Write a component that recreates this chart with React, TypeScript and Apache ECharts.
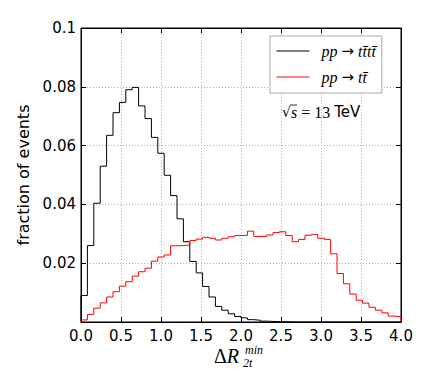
import React, { useEffect, useRef } from "react";
import * as echarts from "echarts";

// Histogram bin width (x in ΔR units), 50 bins over 0..4
const binWidth = 0.08;

// pp -> t tbar t tbar (black)
const fourTop = [
  0.009, 0.026, 0.0404, 0.053, 0.0635, 0.0712, 0.0747, 0.079, 0.0798, 0.0735,
  0.0692, 0.0628, 0.0574, 0.0499, 0.043, 0.0351, 0.0273, 0.0206, 0.0167, 0.0121,
  0.0085, 0.0053, 0.004, 0.0028, 0.0019, 0.0014, 0.0008, 0.0006, 0.0003, 0.0002,
  0.0001, 0.0001, 0, 0, 0, 0, 0, 0, 0, 0,
  0, 0, 0, 0, 0, 0, 0, 0, 0, 0,
];

// pp -> t tbar (red)
const twoTop = [
  0.0007, 0.0026, 0.0047, 0.0065, 0.0085, 0.0103, 0.0122, 0.0137, 0.0156, 0.0171,
  0.0183, 0.0207, 0.0221, 0.0228, 0.0259, 0.026, 0.0262, 0.0277, 0.0282, 0.0288,
  0.0285, 0.0279, 0.0285, 0.029, 0.0294, 0.0295, 0.0309, 0.0291, 0.0291, 0.0296,
  0.0304, 0.0307, 0.0294, 0.0273, 0.0281, 0.0295, 0.0298, 0.0285, 0.0281, 0.0232,
  0.0165, 0.013, 0.0095, 0.0074, 0.0064, 0.005, 0.004, 0.0031, 0.002, 0.0018,
];

const seriesNames = ["pp → tt̄tt̄", "pp → tt̄"];
const yLabel = "fraction of events";
const energyLabel = "13";

function stepData(vals: number[]) {
  const pts: [number, number][] = [[0, 0]];
  vals.forEach((v, i) => pts.push([+(i * binWidth).toFixed(4), v]));
  const end = +(vals.length * binWidth).toFixed(4);
  pts.push([end, vals[vals.length - 1]]);
  pts.push([end, 0]);
  return pts;
}

export default function App() {
  const ref = useRef<HTMLDivElement>(null);
  useEffect(() => {
    document.body.style.margin = "0";
    const chart = echarts.init(ref.current!, null, { renderer: "svg" });
    const tickFont = { fontFamily: "DejaVu Sans", fontSize: 15, color: "#000" };
    const gridLine = { show: true, lineStyle: { color: "#b0b0b0", type: [1, 2] as any, width: 1 } };
    const option: any = {
      animation: false,
      backgroundColor: "#fff",
      grid: { left: 81, right: 34, top: 28, bottom: 65, show: true, borderColor: "#000", borderWidth: 1, outerBoundsMode: "none" },
      xAxis: [
        {
          type: "value", min: 0, max: 4, interval: 0.5,
          axisLine: { show: true, onZero: false, lineStyle: { color: "#000" } },
          axisTick: { show: true, inside: true, length: 5, lineStyle: { color: "#000" } },
          axisLabel: { ...tickFont, lineHeight: 14, margin: 7, formatter: (v: number) => v.toFixed(1) },
          splitLine: gridLine,
        },
        {
          type: "value", min: 0, max: 4, interval: 0.5, position: "top",
          axisLine: { show: true, onZero: false, lineStyle: { color: "#000" } },
          axisTick: { show: true, inside: true, length: 5, lineStyle: { color: "#000" } },
          axisLabel: { show: false }, splitLine: { show: false },
        },
      ],
      yAxis: [
        {
          type: "value", min: 0, max: 0.1, interval: 0.02,
          axisLine: { show: true, onZero: false, lineStyle: { color: "#000" } },
          axisTick: { show: true, inside: true, length: 5, lineStyle: { color: "#000" } },
          axisLabel: {
            ...tickFont, margin: 5,
            formatter: (v: number) => (v < 1e-9 ? "" : Math.abs(v - 0.1) < 1e-9 ? "0.1" : v.toFixed(2)),
          },
          splitLine: gridLine,
          name: yLabel, nameLocation: "middle", nameGap: 43,
          nameTextStyle: { fontFamily: "DejaVu Sans", fontSize: 16, color: "#000" },
        },
        {
          type: "value", min: 0, max: 0.1, interval: 0.02, position: "right",
          axisLine: { show: true, onZero: false, lineStyle: { color: "#000" } },
          axisTick: { show: true, inside: true, length: 5, lineStyle: { color: "#000" } },
          axisLabel: { show: false }, splitLine: { show: false },
        },
      ],
      legend: {
        orient: "vertical", left: 270, top: 36,
        padding: [7, 6, 8, 6], itemGap: 10, itemWidth: 33, itemHeight: 14,
        borderColor: "#aaa", borderWidth: 1, backgroundColor: "#fff", borderRadius: 0,
        itemStyle: { opacity: 0 },
        lineStyle: { width: 1 },
        data: seriesNames,
        formatter: (name: string) => {
          const parts = name.split("→");
          return `{g|}{a|${parts[0]}}{b|→}{a|${parts[1]}}`;
        },
        textStyle: {
          rich: {
            g: { width: 7 },
            a: { fontFamily: "Liberation Serif", fontStyle: "italic", fontSize: 16, color: "#000" },
            b: { fontFamily: "DejaVu Sans", fontSize: 15, color: "#000" },
          },
        },
      },
      graphic: [
        {
          type: "text", left: 214, top: 346,
          style: {
            text: "{d|Δ}{r|R}",
            rich: {
              d: { fontFamily: "Liberation Serif", fontSize: 20, lineHeight: 20, fill: "#000" },
              r: { fontFamily: "Liberation Serif", fontStyle: "italic", fontSize: 20, lineHeight: 20, fill: "#000" },
            },
          },
        },
        { type: "text", left: 245, top: 344, style: { text: "min", font: "italic 12px 'Liberation Serif'", lineHeight: 12, fill: "#000" } },
        { type: "text", left: 243, top: 357, style: { text: "2t", font: "italic 12px 'Liberation Serif'", lineHeight: 12, fill: "#000" } },
        {
          type: "text", left: 282, top: 104,
          style: {
            text: `{r|√}{s|s}{n| = ${energyLabel} }{t|TeV}`,
            rich: {
              r: { fontFamily: "DejaVu Serif", fontSize: 14, fill: "#000" },
              s: { fontFamily: "Liberation Serif", fontStyle: "italic", fontSize: 16, fill: "#000" },
              n: { fontFamily: "Liberation Serif", fontSize: 16, fill: "#000" },
              t: { fontFamily: "DejaVu Sans", fontSize: 15, fill: "#000" },
            },
          },
        },
        { type: "line", shape: { x1: 290, y1: 105, x2: 297, y2: 105 }, style: { stroke: "#000", lineWidth: 0.8 } },
      ],
      series: [
        {
          name: seriesNames[0], type: "line", step: "end", symbol: "none",
          data: stepData(fourTop),
          lineStyle: { color: "#000", width: 1 }, itemStyle: { color: "#000" },
        },
        {
          name: seriesNames[1], type: "line", step: "end", symbol: "none",
          data: stepData(twoTop),
          lineStyle: { color: "#ff0000", width: 1 }, itemStyle: { color: "#ff0000" },
        },
      ],
    };
    chart.setOption(option);
    return () => chart.dispose();
  }, []);
  return <div ref={ref} style={{ width: 435, height: 387 }} />;
}
